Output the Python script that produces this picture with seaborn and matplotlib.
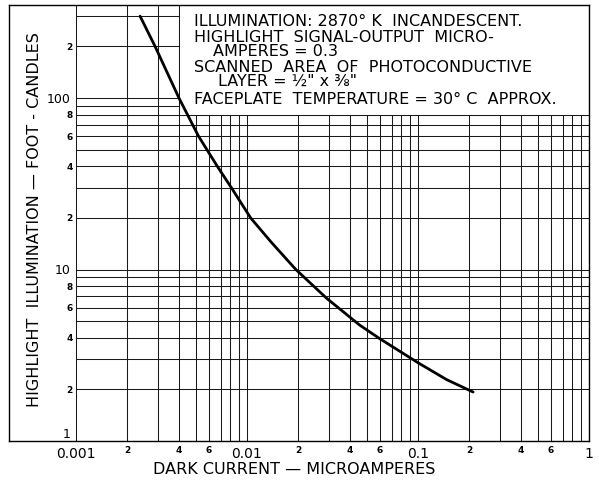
import numpy as np
import pandas as pd
import matplotlib
matplotlib.use("Agg")
import matplotlib.pyplot as plt
import seaborn as sns
from matplotlib.patches import Rectangle

# curve values (dark current in microamperes vs foot-candles)
dark_current = [0.00237, 0.0029, 0.0040, 0.0052, 0.0067, 0.0081, 0.0105,
                0.0138, 0.0193, 0.0292, 0.0456, 0.0593, 0.1, 0.147, 0.21]
illumination = [300, 200, 100, 60, 40, 30, 20,
                14.5, 10, 6.8, 4.74, 3.97, 2.86, 2.28, 1.93]

x_major = [0.001, 0.01, 0.1, 1]
x_major_labels = ["0.001", "0.01", "0.1", "1"]
x_minor = [0.002, 0.004, 0.006, 0.02, 0.04, 0.06, 0.2, 0.4, 0.6]
x_minor_labels = ["2", "4", "6"] * 3

y_major = [1, 10, 100]
y_major_labels = ["1", "10", "100"]
y_minor = [2, 4, 6, 8, 20, 40, 60, 80, 200]
y_minor_labels = ["2", "4", "6", "8", "2", "4", "6", "8", "2"]

notes = [
    ("ILLUMINATION: 2870° K  INCANDESCENT.", 194, 22),
    ("HIGHLIGHT  SIGNAL-OUTPUT  MICRO-", 194, 37),
    ("AMPERES = 0.3", 213, 51.5),
    ("SCANNED  AREA  OF  PHOTOCONDUCTIVE", 194, 67),
    ("LAYER = ½\" x ⅜\"", 218, 81.5),
    ("FACEPLATE  TEMPERATURE = 30° C  APPROX.", 194, 99.5),
]

df = pd.DataFrame({"current": dark_current, "fc": illumination})

sns.set_style("white")
plt.rcParams["font.family"] = ["DejaVu Sans"]
plt.rcParams["text.color"] = "black"
plt.rcParams["xtick.color"] = "black"
plt.rcParams["ytick.color"] = "black"
plt.rcParams["axes.labelcolor"] = "black"

W, H = 599, 482
fig = plt.figure(figsize=(W / 100, H / 100), dpi=100)
ax_l, ax_r, ax_t, ax_b = 9, 589, 5, 441
ax = fig.add_axes([ax_l / W, (H - ax_b) / H, (ax_r - ax_l) / W, (ax_b - ax_t) / H])

ax.set_xscale("log")
ax.set_yscale("log")
xmin = 10 ** (-3 - 67 / 171)
ymax = 10 ** (2 + 93 / 171.5)
ax.set_xlim(xmin, 1)
ax.set_ylim(1, ymax)

# log graph paper grid
grid_x = [m * 10.0 ** e for e in (-3, -2, -1) for m in range(1, 10)] + [1]
grid_y = [m * 10.0 ** e for e in (0, 1, 2) for m in range(1, 10)]
grid_y = [v for v in grid_y if v < ymax]
ax.vlines(grid_x, 1, ymax, color="#1a1a1a", lw=0.75, zorder=1)
ax.hlines(grid_y, 0.001, 1, color="#1a1a1a", lw=0.75, zorder=1)

# white notes panel
ax.add_patch(Rectangle((0.004, 80), 1 - 0.004, ymax - 80, facecolor="white",
                       edgecolor="#1a1a1a", lw=0.75, zorder=2))

sns.lineplot(data=df, x="current", y="fc", ax=ax, color="black", lw=2.0,
             zorder=4, estimator=None, sort=False)

for s in ax.spines.values():
    s.set_color("black")
    s.set_linewidth(1.0)
    s.set_visible(True)

ax.set_xticks(x_major, labels=x_major_labels)
ax.set_xticks(x_minor, labels=x_minor_labels, minor=True)
ax.set_yticks(y_major, labels=y_major_labels)
ax.set_yticks(y_minor, labels=y_minor_labels, minor=True)
ax.tick_params(axis="x", which="major", length=0, pad=4, labelsize=10)
ax.tick_params(axis="x", which="minor", length=0, pad=3.5, labelsize=6.5)
ax.tick_params(axis="y", which="major", length=0, pad=-44, labelsize=9)
ax.tick_params(axis="y", which="minor", length=0, pad=-46, labelsize=6.5)
for t in ax.xaxis.get_minorticklabels() + ax.yaxis.get_minorticklabels():
    t.set_fontweight("bold")
ax.yaxis.get_majorticklabels()[0].set_va("bottom")

ax.set_xlabel("")
ax.set_ylabel("")
fig.text(294 / W, 1 - 470 / H, "DARK CURRENT — MICROAMPERES", ha="center",
         va="center", fontsize=11.5)
fig.text(35 / W, 1 - 220 / H, "HIGHLIGHT  ILLUMINATION — FOOT - CANDLES",
         ha="center", va="center", rotation=90, fontsize=11.5)

for txt, px, py in notes:
    fig.text(px / W, 1 - py / H, txt, ha="left", va="center", fontsize=11.5,
             zorder=5)

fig.savefig("out.png", dpi=100)
